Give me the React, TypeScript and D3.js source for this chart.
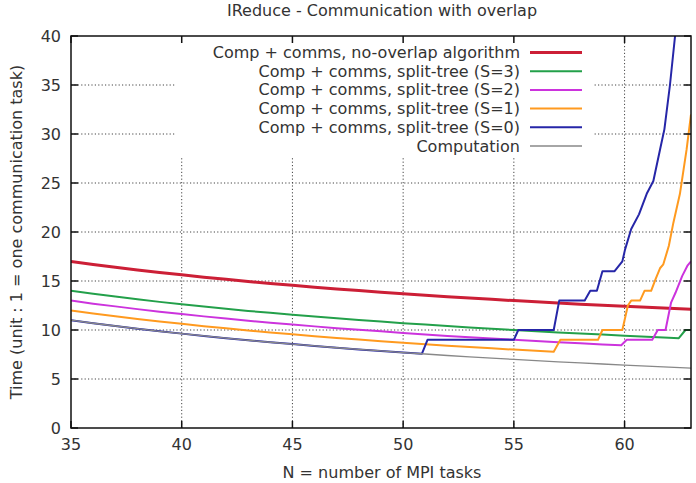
import React from 'react';
import * as d3 from 'd3';

const title = 'IReduce - Communication with overlap';
const xLabel = 'N = number of MPI tasks';
const yLabel = 'Time (unit : 1 = one communication task)';
const xTicks = [35, 40, 45, 50, 55, 60];
const yTicks = [0, 5, 10, 15, 20, 25, 30, 35, 40];

// [N, time] pairs
const computation: [number, number][] = [
  [35, 11], [36, 10.69], [37, 10.41], [38, 10.13], [39, 9.87], [40, 9.63], [41, 9.39], [42, 9.17],
  [43, 8.95], [44, 8.75], [45, 8.56], [46, 8.37], [47, 8.19], [48, 8.02], [49, 7.86], [50, 7.7],
  [51, 7.55], [52, 7.4], [53, 7.26], [54, 7.13], [55, 7.0], [56, 6.88], [57, 6.75], [58, 6.64],
  [59, 6.53], [60, 6.42], [61, 6.31], [62, 6.21], [63, 6.11],
];

const noOverlap: [number, number][] = [
  [35, 17], [36, 16.69], [37, 16.41], [38, 16.13], [39, 15.87], [40, 15.63], [41, 15.39], [42, 15.17],
  [43, 14.95], [44, 14.75], [45, 14.56], [46, 14.37], [47, 14.19], [48, 14.02], [49, 13.86], [50, 13.7],
  [51, 13.55], [52, 13.4], [53, 13.26], [54, 13.13], [55, 13.0], [56, 12.88], [57, 12.75], [58, 12.64],
  [59, 12.53], [60, 12.42], [61, 12.31], [62, 12.21], [63, 12.11],
];

const splitS3: [number, number][] = [
  [35, 14], [36, 13.69], [37, 13.41], [38, 13.13], [39, 12.87], [40, 12.63], [41, 12.39], [42, 12.17],
  [43, 11.95], [44, 11.75], [45, 11.56], [46, 11.37], [47, 11.19], [48, 11.02], [49, 10.86], [50, 10.7],
  [51, 10.55], [52, 10.4], [53, 10.26], [54, 10.13], [55, 10.0], [56, 9.88], [57, 9.75], [58, 9.64],
  [59, 9.53], [60, 9.42], [61, 9.31], [62, 9.21], [62.45, 9.16], [62.75, 10], [63, 10],
];

const splitS2: [number, number][] = [
  [35, 13], [36, 12.69], [37, 12.41], [38, 12.13], [39, 11.87], [40, 11.63], [41, 11.39], [42, 11.17],
  [43, 10.95], [44, 10.75], [45, 10.56], [46, 10.37], [47, 10.19], [48, 10.02], [49, 9.86], [50, 9.7],
  [51, 9.55], [52, 9.4], [53, 9.26], [54, 9.13], [55, 9.0], [56, 8.88], [57, 8.75], [58, 8.64],
  [59, 8.53], [59.85, 8.44], [60.1, 9], [61.25, 9], [61.5, 10], [61.85, 10], [62.1, 12.8],
  [62.3, 13.8], [62.6, 15.5], [62.85, 16.6], [63, 17],
];

const splitS1: [number, number][] = [
  [35, 12], [36, 11.69], [37, 11.41], [38, 11.13], [39, 10.87], [40, 10.63], [41, 10.39], [42, 10.17],
  [43, 9.95], [44, 9.75], [45, 9.56], [46, 9.37], [47, 9.19], [48, 9.02], [49, 8.86], [50, 8.7],
  [51, 8.55], [52, 8.4], [53, 8.26], [54, 8.13], [55, 8.0], [56, 7.88], [56.8, 7.78], [57.1, 9],
  [58.8, 9], [59.0, 10], [59.9, 10], [60.15, 12.5], [60.3, 13], [60.7, 13], [60.9, 14], [61.2, 14],
  [61.4, 15.2], [61.6, 16.3], [61.75, 16.7], [62, 18.6], [62.2, 20.9], [62.5, 23.9], [62.8, 28.4], [63, 32],
];

const splitS0: [number, number][] = [
  [35, 11], [36, 10.69], [37, 10.41], [38, 10.13], [39, 9.87], [40, 9.63], [41, 9.39], [42, 9.17],
  [43, 8.95], [44, 8.75], [45, 8.56], [46, 8.37], [47, 8.19], [48, 8.02], [49, 7.86], [50, 7.7],
  [50.85, 7.58], [51.1, 9], [55, 9], [55.2, 10], [56.8, 10], [57.05, 13], [58.2, 13], [58.45, 14],
  [58.75, 14], [59.0, 16], [59.55, 16], [59.9, 17], [60.02, 18.2], [60.3, 20.3], [60.65, 21.8],
  [61, 23.9], [61.3, 25.2], [61.6, 28.4], [61.8, 30.5], [62.05, 35], [62.28, 40], [62.4, 42],
];

const series = [
  { label: 'Comp + comms, no-overlap algorithm', color: '#cc1f36', width: 3, data: noOverlap },
  { label: 'Comp + comms, split-tree (S=3)', color: '#23a04a', width: 2, data: splitS3 },
  { label: 'Comp + comms, split-tree (S=2)', color: '#cc33dd', width: 2, data: splitS2 },
  { label: 'Comp + comms, split-tree (S=1)', color: '#ff9a1f', width: 2, data: splitS1 },
  { label: 'Comp + comms, split-tree (S=0)', color: '#2626a8', width: 2, data: splitS0 },
  { label: 'Computation', color: '#888888', width: 1.3, data: computation },
];

const W = 696;
const H = 483;
const left = 71;
const right = 691;
const top = 36;
const bottom = 428;
const font = 'DejaVu Sans, sans-serif';
const fs = 16;

export default function App() {
  const x = d3.scaleLinear().domain([35, 63]).range([left, right]);
  const y = d3.scaleLinear().domain([0, 40]).range([bottom, top]);
  const line = d3
    .line<[number, number]>()
    .x(d => x(d[0]))
    .y(d => y(d[1]));

  // legend (opaque key box, no border)
  const keyTextX = 520;
  const keyLine = [530, 582];
  const keyRow0 = 52.5;
  const keyStep = 18.7;
  const keyBox = { x0: 176, x1: 593, y0: top, y1: 156 };

  return (
    <svg
      width={W}
      height={H}
      style={{ position: 'absolute', left: 0, top: 0, background: '#fff' }}
      fontFamily={font}
    >
      <defs>
        <clipPath id="plot">
          <rect x={left} y={top} width={right - left} height={bottom - top} />
        </clipPath>
      </defs>

      {/* grid */}
      <g stroke="#444" strokeWidth={1} strokeDasharray="1.2,2.2">
        {xTicks.filter(t => t > 35).map(t => (
          <line key={'gx' + t} x1={x(t)} x2={x(t)} y1={bottom} y2={top} />
        ))}
        {yTicks.filter(t => t > 0 && t < 40).map(t => (
          <line key={'gy' + t} x1={left} x2={right} y1={y(t)} y2={y(t)} />
        ))}
      </g>

      <rect x={keyBox.x0} y={keyBox.y0} width={keyBox.x1 - keyBox.x0} height={keyBox.y1 - keyBox.y0} fill="#fff" />

      {/* data */}
      <g clipPath="url(#plot)" fill="none" strokeLinejoin="round">
        {series.map(s => (
          <path key={s.label} d={line(s.data) || ''} stroke={s.color} strokeWidth={s.width} />
        ))}
      </g>

      {/* legend */}
      <g fontSize={fs} fill="#333">
        {series.map((s, i) => (
          <g key={'k' + i}>
            <text x={keyTextX} y={keyRow0 + i * keyStep} textAnchor="end" dominantBaseline="central">
              {s.label}
            </text>
            <line
              x1={keyLine[0]}
              x2={keyLine[1]}
              y1={keyRow0 + i * keyStep}
              y2={keyRow0 + i * keyStep}
              stroke={s.color}
              strokeWidth={s.width}
            />
          </g>
        ))}
      </g>

      {/* border and ticks */}
      <rect x={left} y={top} width={right - left} height={bottom - top} fill="none" stroke="#111" strokeWidth={1.5} />
      <g stroke="#111" strokeWidth={1.5}>
        {xTicks.map(t => (
          <g key={'tx' + t}>
            <line x1={x(t)} x2={x(t)} y1={bottom} y2={bottom - 7} />
            <line x1={x(t)} x2={x(t)} y1={top} y2={top + 7} />
          </g>
        ))}
        {yTicks.map(t => (
          <g key={'ty' + t}>
            <line x1={left} x2={left + 7} y1={y(t)} y2={y(t)} />
            <line x1={right} x2={right - 7} y1={y(t)} y2={y(t)} />
          </g>
        ))}
      </g>

      <g fontSize={fs} fill="#333">
        {xTicks.map(t => (
          <text key={'lx' + t} x={x(t)} y={444} textAnchor="middle" dominantBaseline="central">
            {t}
          </text>
        ))}
        {yTicks.map(t => (
          <text key={'ly' + t} x={61} y={y(t)} textAnchor="end" dominantBaseline="central">
            {t}
          </text>
        ))}
        <text x={382} y={10} textAnchor="middle" dominantBaseline="central">
          {title}
        </text>
        <text x={382} y={472} textAnchor="middle" dominantBaseline="central">
          {xLabel}
        </text>
        <text
          transform={`translate(16,${(top + bottom) / 2}) rotate(-90)`}
          textAnchor="middle"
          dominantBaseline="central"
        >
          {yLabel}
        </text>
      </g>
    </svg>
  );
}
